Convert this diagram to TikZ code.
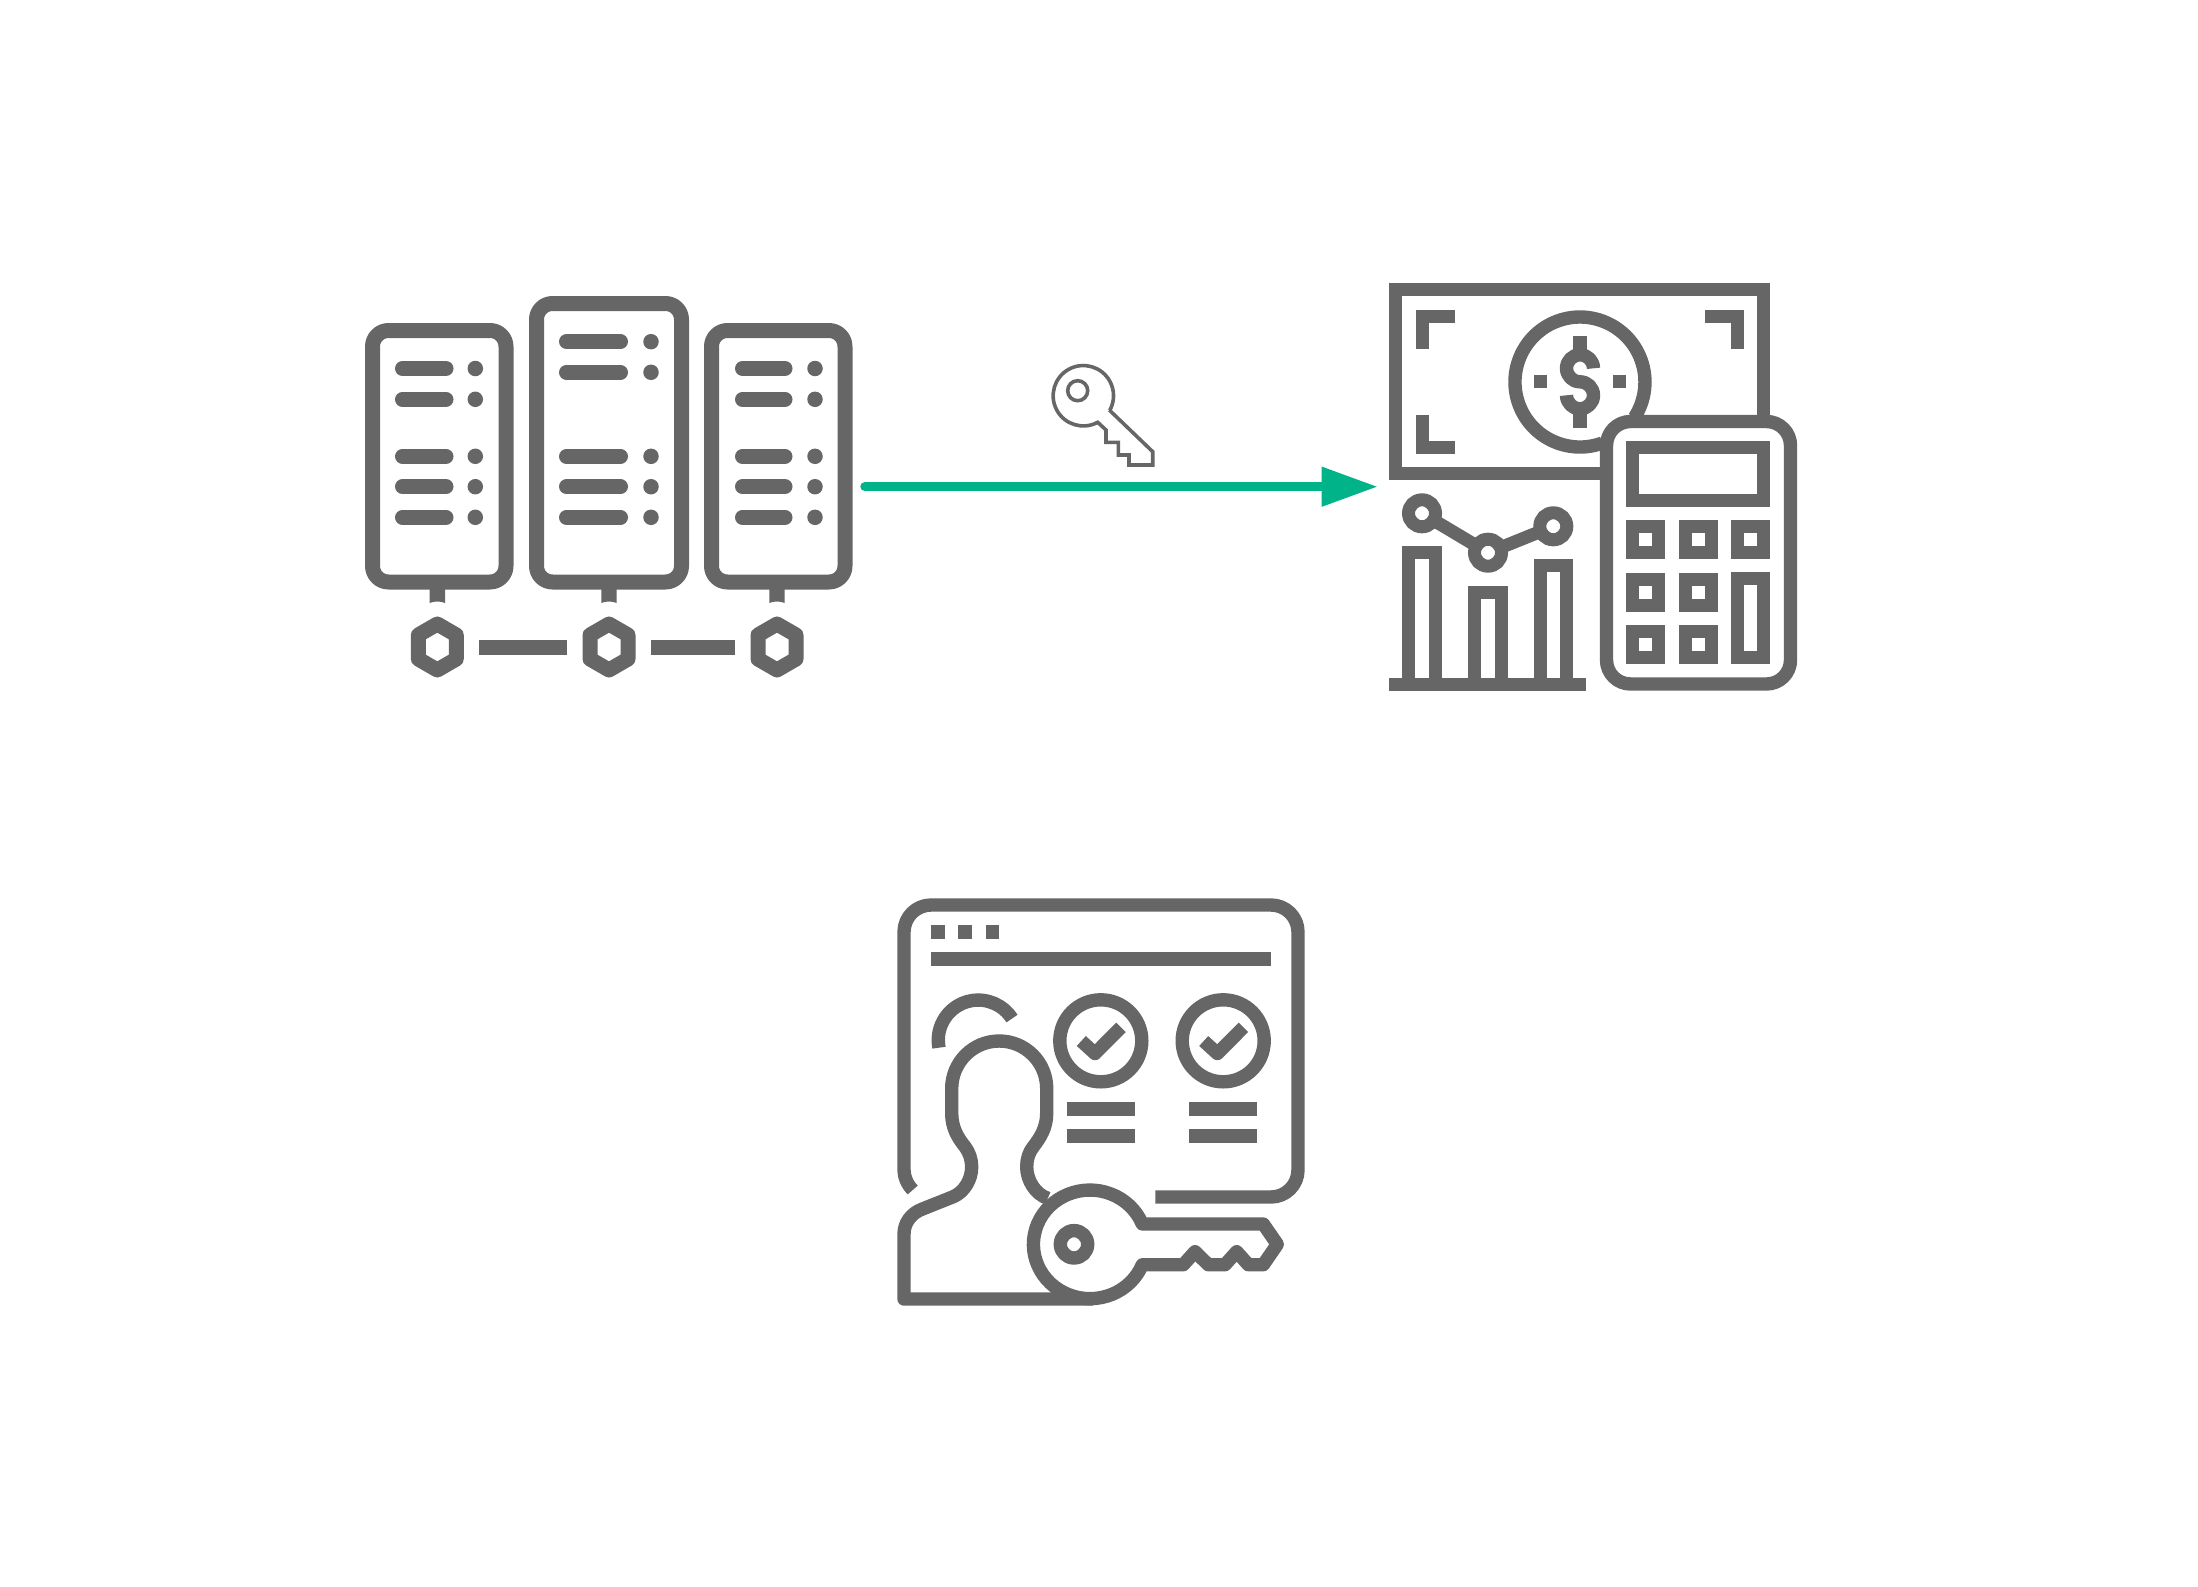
\documentclass[tikz,border=0pt]{standalone}
\usetikzlibrary{arrows.meta}
\definecolor{icongray}{HTML}{666666}
\definecolor{flowgreen}{HTML}{00B388}
\tikzset{
  icon/.style={draw=icongray,line width=13.4pt,line join=round},
  servericon/.style={draw=icongray,line width=15pt,line join=round},
  slot/.style={draw=icongray,line width=15pt,line cap=round},
  led/.style={circle,fill=icongray,inner sep=0pt,minimum size=15.5pt},
  pad/.style={draw=icongray,line width=13pt},
  knob/.style={circle,draw=icongray,line width=13pt,inner sep=0pt,minimum size=27pt},
}
\begin{document}
\begin{tikzpicture}[x=1pt,y=-1pt,>=Stealth]
  \useasboundingbox (0,0) rectangle (2198,1587);
  % servers
  \draw[servericon,rounded corners=16pt] (372.5,330.5) rectangle (506,582);
  \draw[servericon,rounded corners=16pt] (536.5,303.5) rectangle (681.5,582);
  \draw[servericon,rounded corners=16pt] (711.5,330.5) rectangle (845,582);
  \foreach \y in {368.5,399.3,456.3,486.7,517.3} {
    \draw[slot] (402.5,\y) -- (446,\y);
    \node[led] at (475.3,\y) {};
    \draw[slot] (742.5,\y) -- (785,\y);
    \node[led] at (815,\y) {};
  }
  \foreach \y in {341.7,372.3,456.3,486.7,517.3} {
    \draw[slot] (566.5,\y) -- (620.5,\y);
    \node[led] at (651,\y) {};
  }
  \foreach \x in {437.3,609,777} {
    \fill[icongray] (\x-7.7,589) -- (\x+7.7,589) -- (\x+7.7,603) .. controls (\x+3,601) and (\x-3,601) .. (\x-7.7,603) -- cycle;
    \draw[servericon] (\x,624) -- (\x+19,635) -- (\x+19,659) -- (\x,670) -- (\x-19,659) -- (\x-19,635) -- cycle;
  }
  \fill[icongray] (479,640) rectangle (567,655);
  \fill[icongray] (651,640) rectangle (735,655);
  % arrow
  \coordinate (transferstart) at (865,486.7);
  \coordinate (transferend) at (1378,486.7);
  \draw[flowgreen,line width=9.5pt,line cap=round,-{Stealth[length=56.5pt,width=37.5pt,inset=0pt]}] (transferstart) -- (transferend);
  % small key
  \begin{scope}[draw=icongray,line width=3.6pt,line join=miter]
    \draw (1077.7,390.7) circle (10);
    \draw (1109.3,410) -- (1152.7,451.7) -- (1152.7,465) -- (1129,465) -- (1129,455) -- (1118.3,455) -- (1118.3,442.3) -- (1106,442.3) -- (1106,430) -- (1097.7,422.3) arc[start angle=61.6,end angle=388.8,radius=30.2];
  \end{scope}
  % money
  \draw[icon,line join=miter] (1763.5,416) -- (1763.5,289.5) -- (1395.5,289.5) -- (1395.5,473.5) -- (1606,473.5);
  \draw[icon,line join=miter] (1455,316.5) -- (1422.5,316.5) -- (1422.5,349);
  \draw[icon,line join=miter] (1705,316.5) -- (1737.5,316.5) -- (1737.5,349);
  \draw[icon,line join=miter] (1422.5,415) -- (1422.5,447.5) -- (1455,447.5);
  \draw[icon] (1602.2,443.1) arc[start angle=70,end angle=393,radius=65];
  \draw[icon] (1580,336) -- (1580,355);
  \draw[icon] (1580,408) -- (1580,428);
  \draw[icon] (1593.5,368.3) arc[start angle=0,end angle=-270,radius=13.5] arc[start angle=-90,end angle=180,radius=13.5];
  \fill[icongray] (1534,375) rectangle (1547.3,388);
  \fill[icongray] (1613,375) rectangle (1626.3,388);
  % calculator
  \draw[icon,rounded corners=24pt] (1606.5,421.5) rectangle (1790.5,684);
  \draw[pad] (1632.5,447.5) rectangle (1763.5,500.5);
  \foreach \x/\y in {1645.5/539.5,1698/539.5,1750.5/539.5,1645.5/592,1698/592,1645.5/644.5,1698/644.5} {
    \draw[pad] (\x-13,\y-13) rectangle (\x+13,\y+13);
  }
  \draw[pad] (1737.5,578.5) rectangle (1763.5,657.5);
  % chart
  \draw[pad] (1389,684.5) -- (1586,684.5);
  \draw[pad,line join=miter] (1408.5,684) -- (1408.5,552.5) -- (1435.5,552.5) -- (1435.5,684);
  \draw[pad,line join=miter] (1474.5,684) -- (1474.5,592.5) -- (1501.5,592.5) -- (1501.5,684);
  \draw[pad,line join=miter] (1540.5,684) -- (1540.5,565.5) -- (1566.5,565.5) -- (1566.5,684);
  \node[knob] (pointa) at (1422,513.3) {};
  \node[knob] (pointb) at (1488,552.7) {};
  \node[knob] (pointc) at (1553.3,526.3) {};
  \draw[pad,shorten <=-4pt,shorten >=-4pt] (pointa) -- (pointb);
  \draw[pad,shorten <=-4pt,shorten >=-4pt] (pointb) -- (pointc);
  % browser
  \draw[icon] (912.7,1190) .. controls (907,1184) and (904,1177) .. (904,1170) -- (904,932) arc[start angle=180,end angle=270,radius=27] -- (1271,905) arc[start angle=-90,end angle=0,radius=27] -- (1298,1170) arc[start angle=0,end angle=90,radius=27] -- (1155.3,1197);
  \fill[icongray] (931.3,925.3) rectangle (945,939);
  \fill[icongray] (958.3,925.3) rectangle (972,939);
  \fill[icongray] (985.7,925.3) rectangle (999.3,939);
  \fill[icongray] (931.3,952.3) rectangle (1270.7,966);
  \draw[icon] (939,1047.7) arc[start angle=169,end angle=327.5,radius=40];
  \foreach \x in {1100.8,1223.2} {
    \draw[icon] (\x,1040.8) circle (41);
    \draw[icon] (\x-19.5,1041) -- (\x-5.8,1053.5) -- (\x+20.2,1027.3);
    \fill[icongray] (\x-33.8,1102) rectangle (\x+34.2,1115.7);
    \fill[icongray] (\x-33.8,1129) rectangle (\x+34.2,1142.7);
  }
  % person
  \draw[icon] (1047.7,1198.3) .. controls (1035,1194) and (1026.7,1180) .. (1026.7,1166.7) .. controls (1026.7,1159) and (1029,1152) .. (1033.3,1146.7) .. controls (1040,1138) and (1046.7,1128) .. (1046.7,1113.3) -- (1046.7,1088.5) arc[start angle=0,end angle=-180,radius=47.5] -- (951.7,1113.3) .. controls (951.7,1128) and (958,1138) .. (965,1146.7) .. controls (969,1152) and (971.7,1159) .. (971.7,1166.7) .. controls (971.7,1180) and (964,1192) .. (953.3,1196.7) -- (921.7,1209.3) .. controls (911,1213.5) and (904,1223) .. (904,1234) -- (904,1299) -- (1093,1299);
  % big key
  \draw[icon] (1142.3,1264.7) arc[start angle=22,end angle=338,x radius=56.5,y radius=54.3] -- (1263.3,1224) -- (1277.3,1244.3) -- (1263.3,1264.7) -- (1248.3,1264.7) -- (1236.7,1251.7) -- (1225,1264.7) -- (1208.3,1264.7) -- (1195,1251.7) -- (1183.3,1264.7) -- cycle;
  \draw[icon] (1074,1244.3) circle (13.7);
\end{tikzpicture}
\end{document}
